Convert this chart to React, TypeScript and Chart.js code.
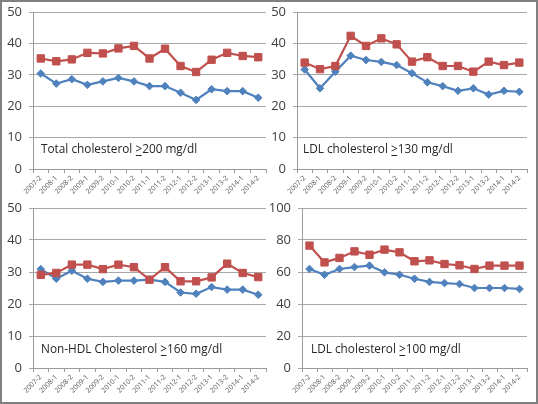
import React, { useEffect, useRef } from 'react';
import { Chart, registerables } from 'chart.js';

Chart.register(...registerables);

// ---- data ----
const periods = ['2007-2', '2008-1', '2008-2', '2009-1', '2009-2', '2010-1', '2010-2', '2011-1', '2011-2', '2012-1', '2012-2', '2013-1', '2013-2', '2014-1', '2014-2'];

const totalRed = [35.2, 34.3, 34.9, 37.0, 36.8, 38.4, 39.2, 35.2, 38.3, 32.8, 30.9, 34.8, 37.0, 36.0, 35.6];
const totalBlue = [30.4, 27.2, 28.6, 26.8, 27.9, 29.0, 27.9, 26.4, 26.4, 24.3, 22.0, 25.4, 24.8, 24.8, 22.7];

const ldl130Red = [33.9, 31.8, 32.8, 42.4, 39.2, 41.6, 39.7, 34.2, 35.6, 32.8, 32.8, 31.0, 34.2, 33.1, 33.9];
const ldl130Blue = [31.7, 25.7, 31.0, 36.1, 34.7, 34.1, 33.1, 30.5, 27.6, 26.4, 24.9, 25.7, 23.7, 24.9, 24.6];

const nonHdlRed = [29.1, 29.7, 32.3, 32.3, 30.9, 32.3, 31.5, 27.6, 31.5, 27.1, 27.1, 28.3, 32.6, 29.7, 28.4];
const nonHdlBlue = [30.9, 27.9, 30.4, 27.9, 26.9, 27.3, 27.3, 27.6, 26.9, 23.6, 23.2, 25.3, 24.5, 24.5, 22.9];

const ldl100Red = [76.5, 66.0, 68.8, 72.9, 70.8, 74.0, 72.3, 66.7, 67.3, 65.0, 64.2, 61.9, 64.0, 64.0, 64.0];
const ldl100Blue = [61.9, 58.3, 61.9, 63.1, 64.0, 59.8, 58.3, 55.8, 53.8, 53.1, 52.5, 50.0, 50.0, 50.0, 49.4];

const titlePrefixes = ['Total cholesterol ', 'LDL cholesterol ', 'Non-HDL Cholesterol ', 'LDL cholesterol '];
const titleSuffixes = ['200 mg/dl', '130 mg/dl', '160 mg/dl', '100 mg/dl'];
const yMaxes = [50, 50, 50, 100];
const ySteps = [10, 10, 10, 20];

// ---- layout / style ----
const RED = '#C0504D';
const BLUE = '#4F81BD';
const FONT = '"Open Sans", "DejaVu Sans", sans-serif';

type Geo = { cl: number; ct: number; cw: number; ch: number; l: number; t: number; r: number; b: number; tdx: number; tdy: number };

const geos: Geo[] = [
  { cl: 0, ct: -10, cw: 285, ch: 220, l: 33, t: 12, r: 266, b: 169, tdx: 8, tdy: 16 },
  { cl: 255, ct: -10, cw: 283, ch: 220, l: 297, t: 12, r: 527, b: 169, tdx: 6, tdy: 16 },
  { cl: 0, ct: 190, cw: 285, ch: 214, l: 33, t: 208, r: 266, b: 368, tdx: 8, tdy: 15 },
  { cl: 255, ct: 190, cw: 283, ch: 214, l: 302, t: 208, r: 527, b: 368, tdx: 9, tdy: 15 },
];

type PanelProps = { red: number[]; blue: number[]; yMax: number; step: number; pre: string; post: string; geo: Geo };

function Panel({ red, blue, yMax, step, pre, post, geo }: PanelProps) {
  const ref = useRef<HTMLCanvasElement | null>(null);
  useEffect(() => {
    if (!ref.current) return;
    const yWidth = geo.l - geo.cl;
    const xHeight = geo.ct + geo.ch - geo.b;
    const titlePlugin = {
      id: 'panelTitle',
      afterDatasetsDraw(chart: any) {
        const { ctx, chartArea } = chart;
        ctx.save();
        ctx.font = '11.8px ' + FONT;
        ctx.fillStyle = '#262626';
        ctx.textBaseline = 'alphabetic';
        ctx.textAlign = 'left';
        let x = chartArea.left + geo.tdx;
        const y = chartArea.bottom - geo.tdy;
        ctx.fillText(pre, x, y);
        x += ctx.measureText(pre).width;
        ctx.fillText('>', x, y);
        const gw = ctx.measureText('>').width;
        ctx.fillRect(x + 0.5, y + 2, gw - 1, 1);
        x += gw;
        ctx.fillText(post, x, y);
        ctx.restore();
      },
    };
    const chart = new Chart(ref.current, {
      type: 'line',
      data: {
        labels: periods,
        datasets: [
          {
            data: red,
            borderColor: RED,
            backgroundColor: RED,
            borderWidth: 2.2,
            pointStyle: 'rect',
            pointRadius: 5.2,
            pointBorderWidth: 1,
            tension: 0,
          },
          {
            data: blue,
            borderColor: BLUE,
            backgroundColor: BLUE,
            borderWidth: 2.2,
            pointStyle: 'rectRot',
            pointRadius: 3.8,
            pointBorderWidth: 1,
            tension: 0,
          },
        ],
      },
      options: {
        responsive: false,
        maintainAspectRatio: false,
        animation: false,
        events: [],
        layout: { padding: { left: 0, top: geo.t - geo.ct, right: geo.cl + geo.cw - geo.r, bottom: 0 } },
        plugins: { legend: { display: false }, tooltip: { enabled: false }, title: { display: false } },
        scales: {
          x: {
            type: 'category',
            offset: true,
            grid: { display: true, drawOnChartArea: false, drawTicks: true, tickLength: 4, offset: true, color: '#9a9a9a' },
            border: { display: true, color: '#9a9a9a' },
            ticks: { minRotation: 45, maxRotation: 45, autoSkip: false, padding: 1, color: '#595959', font: { family: FONT, size: 7 } },
            afterFit: (s: any) => { s.height = xHeight; },
          },
          y: {
            min: 0,
            max: yMax,
            ticks: { stepSize: step, padding: 7, color: '#404040', font: { family: FONT, size: 13 } },
            grid: { color: '#a8a8a8', tickLength: 4, drawTicks: true },
            border: { display: true, color: '#9a9a9a' },
            afterFit: (s: any) => { s.width = yWidth; },
          },
        },
      },
      plugins: [titlePlugin],
    } as any);
    return () => chart.destroy();
  }, [red, blue, yMax, step, pre, post, geo]);
  return (
    <canvas
      ref={ref}
      width={geo.cw}
      height={geo.ch}
      style={{ position: 'absolute', left: geo.cl, top: geo.ct, width: geo.cw, height: geo.ch }}
    />
  );
}

export default function App() {
  const reds = [totalRed, ldl130Red, nonHdlRed, ldl100Red];
  const blues = [totalBlue, ldl130Blue, nonHdlBlue, ldl100Blue];
  return (
    <div style={{ position: 'absolute', left: 0, top: 0, width: 538, height: 404, overflow: 'hidden', background: '#ffffff' }}>
      {geos.map((g, i) => (
        <Panel key={i} red={reds[i]} blue={blues[i]} yMax={yMaxes[i]} step={ySteps[i]} pre={titlePrefixes[i]} post={titleSuffixes[i]} geo={g} />
      ))}
      <div style={{ position: 'absolute', left: 0, top: 0, width: 538, height: 404, boxSizing: 'border-box', border: '2px solid #808080', pointerEvents: 'none' }} />
    </div>
  );
}
